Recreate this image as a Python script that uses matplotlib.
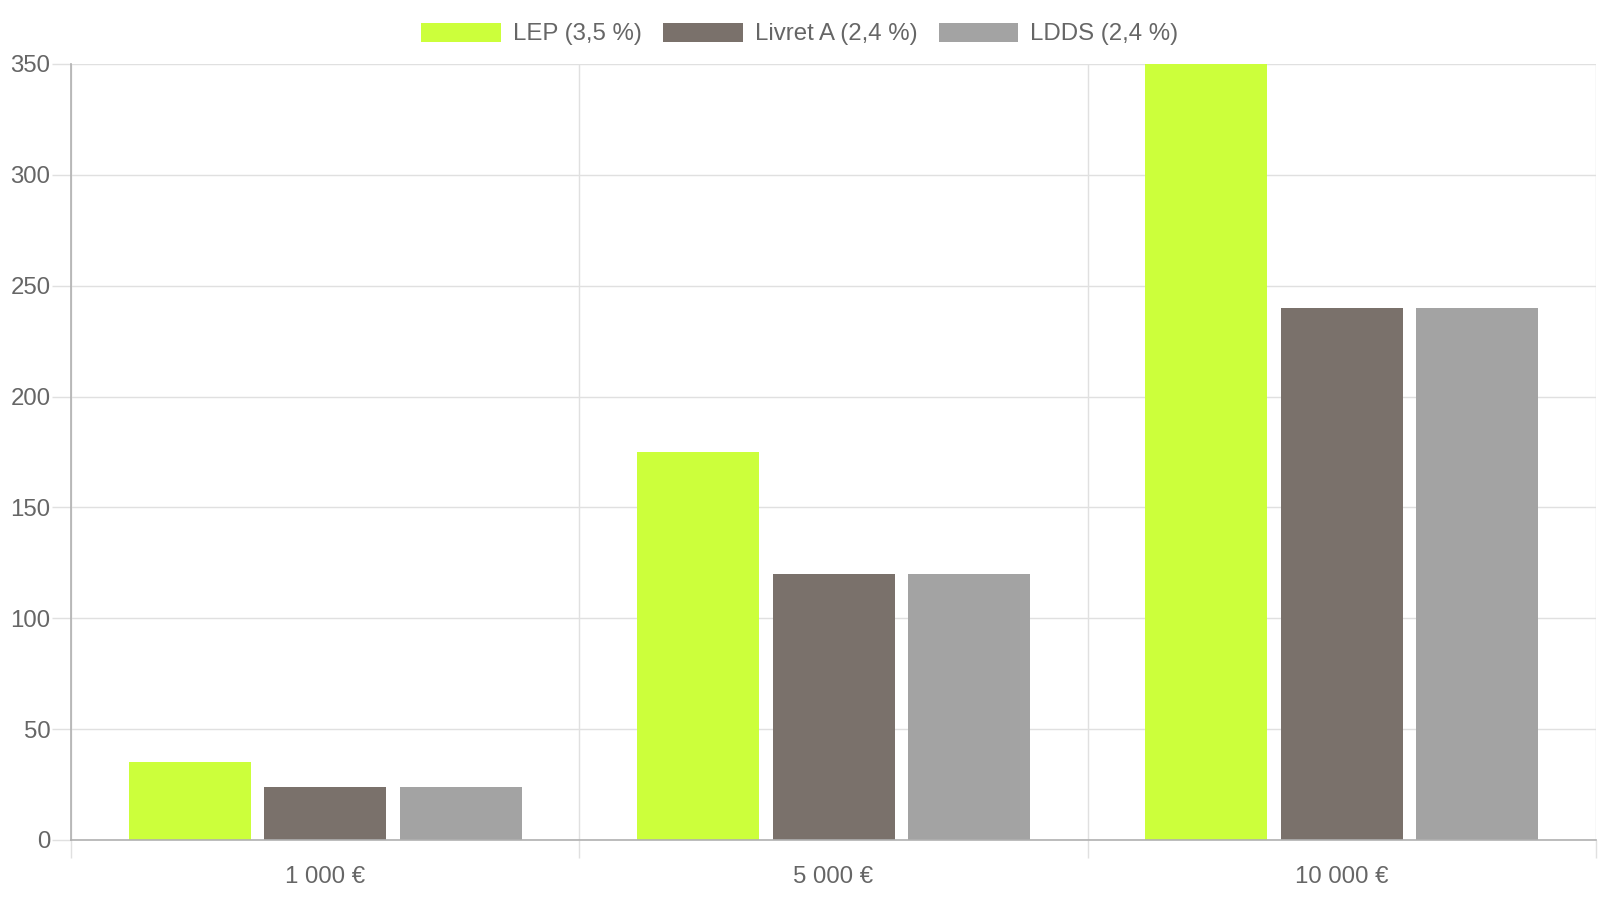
import numpy as np
import matplotlib.pyplot as plt
from matplotlib.patches import Patch

plt.rcParams['font.family'] = ['Liberation Sans', 'DejaVu Sans']

categories = ['1 000 €', '5 000 €', '10 000 €']
series_names = ['LEP (3,5 %)', 'Livret A (2,4 %)', 'LDDS (2,4 %)']
lep = [35, 175, 350]
livret_a = [24, 120, 240]
ldds = [24, 120, 240]
colors = ['#ccff3b', '#7a716b', '#a3a3a3']

txt = '#666666'
fs = 17.3

fig = plt.figure(figsize=(16, 9), dpi=100)
ax = fig.add_axes([71 / 1600, 60 / 900, 1525 / 1600, 776 / 900])

x = np.arange(len(categories))
slot = 0.8 / 3
width = slot * 0.9
for i, vals in enumerate([lep, livret_a, ldds]):
    ax.bar(x + (i - 1) * slot, vals, width, color=colors[i], zorder=2)

ax.set_xlim(-0.5, 2.5)
ax.set_ylim(0, 350)
ax.set_yticks(np.arange(0, 351, 50))
ax.set_xticks([-0.5, 0.5, 1.5, 2.5])
ax.set_xticklabels([])
ax.set_xticks(x, minor=True)
ax.set_xticklabels(categories, minor=True)

ax.tick_params(axis='y', length=13.7, width=1, color='#e0e0e0', labelcolor=txt,
               labelsize=fs, pad=1)
ax.tick_params(axis='x', which='major', length=13, width=1, color='#e0e0e0')
ax.tick_params(axis='x', which='minor', length=0, labelcolor=txt, labelsize=fs, pad=18.5)

ax.grid(True, which='major', color='#e0e0e0', linewidth=1)
ax.set_axisbelow(True)

for s in ['top', 'right']:
    ax.spines[s].set_visible(False)
for s in ['left', 'bottom']:
    ax.spines[s].set_color('#b0b0b0')
    ax.spines[s].set_linewidth(1.2)

handles = [Patch(facecolor=c, edgecolor='none') for c in colors]
leg = fig.legend(handles, series_names, loc='center', bbox_to_anchor=(0.5, 1 - 34 / 900),
                 ncol=3, frameon=False, fontsize=fs, handlelength=3.31, handleheight=0.85,
                 handletextpad=0.5, columnspacing=0.89, borderpad=0)
for t in leg.get_texts():
    t.set_color(txt)

fig.savefig('out.png', dpi=100)
